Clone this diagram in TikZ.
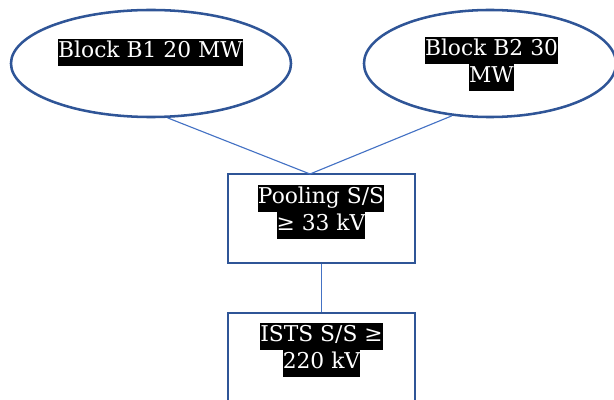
\documentclass[tikz,border=0pt]{standalone}
\usepackage{fontspec}
\setmainfont{DejaVu Serif}
\usepackage{tikz}
\usetikzlibrary{shapes.geometric, positioning}

\definecolor{edgeblue}{HTML}{2F5597}
\definecolor{linkblue}{HTML}{4472C4}
\newcommand{\hlline}[1]{{\setlength\fboxsep{0pt}\colorbox{black}{\strut\textcolor{white}{#1}}}}

\begin{document}
\begin{tikzpicture}[x=0.025cm, y=-0.025cm,
    blk/.style={draw=edgeblue, line width=1.8pt, ellipse, minimum height=2.675cm, inner sep=0pt},
    ss/.style={draw=edgeblue, line width=1.8pt, rectangle, minimum width=4.675cm, minimum height=2.225cm, inner sep=0pt},
    txt/.style={anchor=north, inner sep=0pt, align=center, font=\fontsize{15.5}{19}\selectfont},
    link/.style={draw=linkblue, line width=0.8pt}
]
    \useasboundingbox (0,0) rectangle (614,400);

    \node[blk, minimum width=7cm]    (b1)   at (151,63.5) {};
    \node[blk, minimum width=6.3cm]  (b2)   at (490,63.5) {};
    \node[ss]                        (pool) at (321.5,218.5) {};
    \node[ss]                        (ists) at (321.5,357.5) {};

    \node[txt] (b1t)   at (150.5,39) {\hlline{Block B1 20 MW}};
    \node[txt] (b2t)   at (491.5,37) {\hlline{Block B2 30}\\\hlline{MW}};
    \node[txt] (poolt) at (321,185)  {\hlline{Pooling S/S}\\\hlline{≥ 33 kV}};
    \node[txt] (istst) at (321.5,323) {\hlline{ISTS S/S ≥}\\\hlline{220 kV}};

    \coordinate (join) at (310,174);
    \draw[link] (b1.-73) -- (join);
    \draw[link] (b2.-126) -- (join);
    \draw[link] (pool) -- (ists);
\end{tikzpicture}
\end{document}
